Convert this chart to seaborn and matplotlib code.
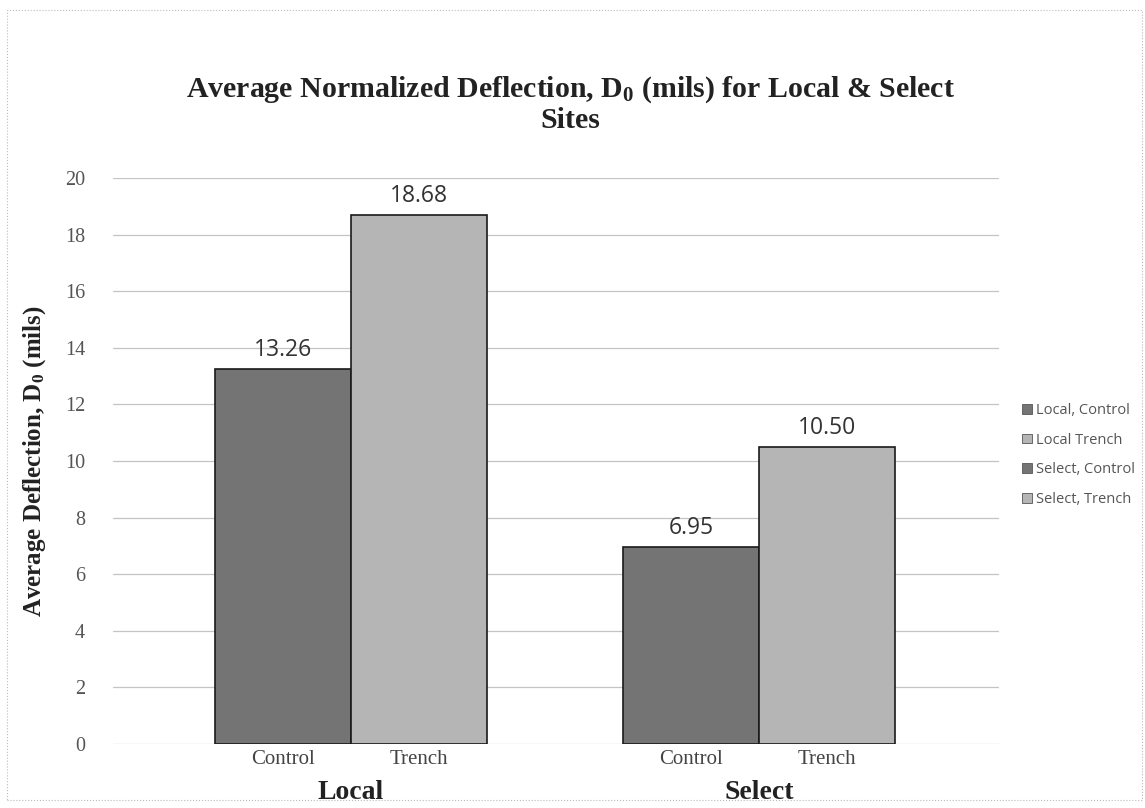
import matplotlib
matplotlib.use("Agg")
import matplotlib.pyplot as plt
import seaborn as sns
import pandas as pd
from matplotlib.patches import Rectangle, Patch

groups = ["Local", "Local", "Select", "Select"]
conditions = ["Control", "Trench", "Control", "Trench"]
series = ["Local, Control", "Local Trench", "Select, Control", "Select, Trench"]
values = [13.26, 18.68, 6.95, 10.50]
positions = [1.25, 2.25, 4.25, 5.25]
colors = ["#747474", "#b5b5b5", "#747474", "#b5b5b5"]
yticks = list(range(0, 21, 2))

df = pd.DataFrame({"pos": positions, "value": values, "series": series})

sns.set_style("white")
plt.rcParams["font.family"] = ["Liberation Serif", "DejaVu Serif"]
plt.rcParams["mathtext.fontset"] = "custom"
plt.rcParams["mathtext.rm"] = "Liberation Serif:bold"
plt.rcParams["mathtext.default"] = "rm"

fig = plt.figure(figsize=(11.45, 8.08), dpi=100)
ax = fig.add_axes([113/1145, 64/808, 886/1145, (744-178)/808])

sns.barplot(data=df, x="pos", y="value", hue="series", hue_order=series,
            palette=colors, native_scale=True, width=1.0, dodge=False,
            edgecolor="#1a1a1a", linewidth=1.2, legend=False, ax=ax, zorder=3)

ax.set_xlim(0, 6.515)
ax.set_ylim(0, 20)
ax.set_yticks(yticks)
ax.set_yticklabels([str(t) for t in yticks], fontsize=14.5, color="#555555")
ax.tick_params(axis="y", length=0, pad=20)
ax.yaxis.grid(True, color="#c4c4c4", linewidth=0.9, zorder=0)
ax.set_axisbelow(True)
for s in ax.spines.values():
    s.set_visible(False)

ax.set_xticks(positions)
ax.set_xticklabels(conditions, fontsize=15, color="#444444")
ax.tick_params(axis="x", length=0, pad=4)
ax.set_xlabel("")

for gx, gname in [((positions[0]+positions[1])/2, "Local"), ((positions[2]+positions[3])/2, "Select")]:
    ax.text(gx, -1.73, gname, ha="center", va="center", fontsize=20,
            fontweight="bold", color="#222222", transform=ax.transData, clip_on=False)

for p, v in zip(positions, values):
    ax.text(p, v + 0.25, f"{v:.2f}", ha="center", va="bottom", fontsize=16.5,
            color="#333333", family=["Open Sans", "DejaVu Sans"])

ax.set_ylabel("Average Deflection, $\\mathrm{D}_{0}$ (mils)", fontsize=18, fontweight="bold",
              color="#222222", labelpad=12)

fig.text(0.498, 1 - 104/808, "Average Normalized Deflection, $\\mathrm{D}_{0}$ (mils) for Local & Select\nSites",
         ha="center", va="center", fontsize=21.5, fontweight="bold", color="#222222",
         linespacing=1.12)

handles = [Patch(facecolor=c, edgecolor="#555555", linewidth=0.6) for c in colors]
leg = fig.legend(handles, series, loc="center left",
                 bbox_to_anchor=(1009/1145, 1 - 455/808), frameon=False,
                 handlelength=0.65, handleheight=0.65, handletextpad=0.3,
                 labelspacing=1.0, prop={"family": ["Open Sans", "DejaVu Sans"], "size": 10.5})
for t in leg.get_texts():
    t.set_color("#555555")

fig.patches.append(Rectangle((7/1145, 1 - 800/808), 1135/1145, 790/808,
                             transform=fig.transFigure, fill=False,
                             edgecolor="#bbbbbb", linewidth=0.8, linestyle=":"))

fig.savefig("out.png", dpi=100)
